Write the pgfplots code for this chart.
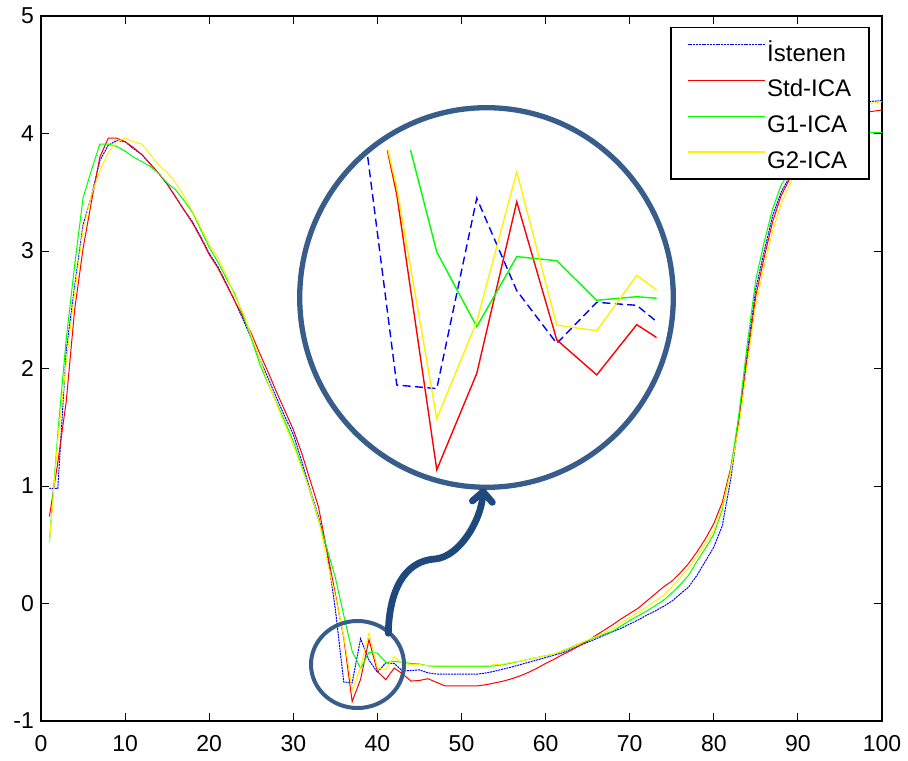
\documentclass[border=0pt]{standalone}
\usepackage{fontspec}
\setmainfont{Liberation Sans}
\usepackage{pgfplots}
\usepackage{pgfplotstable}
\pgfplotsset{compat=1.18}
\usetikzlibrary{arrows.meta}
\definecolor{circcol}{RGB}{56,93,138}
\definecolor{arrcol}{RGB}{31,73,125}

\pgfplotstableread{
x y
1 0.98
2 0.98
3 2.15
4 2.70
5 3.22
6 3.47
7 3.77
8 3.90
9 3.94
10 3.93
11 3.87
12 3.82
13 3.74
14 3.66
15 3.57
16 3.46
17 3.35
18 3.25
19 3.12
20 2.98
21 2.87
22 2.73
23 2.58
24 2.42
25 2.26
26 2.08
27 1.92
28 1.75
29 1.59
30 1.44
31 1.21
32 0.97
33 0.74
34 0.45
35 -0.05
36 -0.668
37 -0.675
38 -0.30
39 -0.482
40 -0.586
41 -0.505
42 -0.511
43 -0.575
44 -0.57
45 -0.565
46 -0.59
47 -0.60
48 -0.60
49 -0.60
50 -0.60
51 -0.60
52 -0.60
53 -0.59
54 -0.575
55 -0.557
56 -0.54
57 -0.52
58 -0.50
59 -0.48
60 -0.46
61 -0.44
62 -0.42
63 -0.39
64 -0.36
65 -0.33
66 -0.30
67 -0.27
68 -0.24
69 -0.21
70 -0.175
71 -0.14
72 -0.10
73 -0.065
74 -0.025
75 0.02
76 0.08
77 0.14
78 0.24
79 0.36
80 0.48
81 0.66
82 1.05
83 1.57
84 2.15
85 2.68
86 3.00
87 3.30
88 3.50
89 3.63
90 3.80
91 3.94
92 4.04
93 4.11
94 4.16
95 4.20
96 4.23
97 4.25
98 4.27
99 4.275
100 4.28
}\tblue

\pgfplotstableread{
x y
1 0.74
2 1.20
3 1.72
4 2.50
5 3.02
6 3.42
7 3.80
8 3.96
9 3.96
10 3.93
11 3.88
12 3.82
13 3.74
14 3.66
15 3.57
16 3.46
17 3.35
18 3.24
19 3.11
20 2.97
21 2.86
22 2.72
23 2.58
24 2.44
25 2.30
26 2.13
27 1.97
28 1.80
29 1.64
30 1.48
31 1.28
32 1.05
33 0.82
34 0.45
35 0.08
36 -0.293
37 -0.835
38 -0.645
39 -0.307
40 -0.579
41 -0.648
42 -0.549
43 -0.60
44 -0.66
45 -0.655
46 -0.64
47 -0.67
48 -0.70
49 -0.70
50 -0.70
51 -0.70
52 -0.70
53 -0.69
54 -0.675
55 -0.66
56 -0.64
57 -0.615
58 -0.585
59 -0.55
60 -0.51
61 -0.475
62 -0.435
63 -0.40
64 -0.36
65 -0.32
66 -0.27
67 -0.225
68 -0.18
69 -0.13
70 -0.085
71 -0.04
72 0.02
73 0.08
74 0.14
75 0.19
76 0.26
77 0.34
78 0.44
79 0.55
80 0.68
81 0.86
82 1.15
83 1.55
84 2.10
85 2.62
86 2.95
87 3.25
88 3.47
89 3.61
90 3.77
91 3.89
92 3.98
93 4.04
94 4.09
95 4.12
96 4.14
97 4.16
98 4.18
99 4.19
100 4.20
}\tred

\pgfplotstableread{
x y
1 0.52
2 1.45
3 2.25
4 2.88
5 3.45
6 3.69
7 3.91
8 3.91
9 3.89
10 3.85
11 3.80
12 3.76
13 3.72
14 3.66
15 3.58
16 3.52
17 3.43
18 3.33
19 3.18
20 3.03
21 2.91
22 2.77
23 2.64
24 2.46
25 2.26
26 2.04
27 1.87
28 1.71
29 1.55
30 1.38
31 1.17
32 0.95
33 0.71
34 0.47
35 0.22
36 -0.10
37 -0.406
38 -0.553
39 -0.415
40 -0.423
41 -0.501
42 -0.494
43 -0.50
44 -0.51
45 -0.515
46 -0.53
47 -0.535
48 -0.535
49 -0.535
50 -0.535
51 -0.535
52 -0.535
53 -0.535
54 -0.53
55 -0.52
56 -0.505
57 -0.49
58 -0.475
59 -0.46
60 -0.445
61 -0.43
62 -0.405
63 -0.375
64 -0.345
65 -0.315
66 -0.285
67 -0.26
68 -0.235
69 -0.19
70 -0.145
71 -0.105
72 -0.065
73 -0.02
74 0.026
75 0.09
76 0.16
77 0.24
78 0.36
79 0.47
80 0.59
81 0.80
82 1.13
83 1.62
84 2.22
85 2.76
86 3.08
87 3.36
88 3.56
89 3.68
90 3.82
91 3.92
92 3.97
93 3.99
94 4.00
95 4.00
96 4.00
97 4.01
98 4.01
99 4.01
100 4.01
}\tgreen

\pgfplotstableread{
x y
1 0.52
2 1.40
3 2.05
4 2.65
5 3.18
6 3.48
7 3.68
8 3.84
9 3.93
10 3.96
11 3.93
12 3.91
13 3.82
14 3.73
15 3.67
16 3.58
17 3.47
18 3.34
19 3.20
20 3.06
21 2.95
22 2.80
23 2.62
24 2.48
25 2.28
26 2.08
27 1.88
28 1.70
29 1.52
30 1.35
31 1.15
32 0.96
33 0.72
34 0.37
35 0.06
36 -0.28
37 -0.734
38 -0.543
39 -0.248
40 -0.55
41 -0.561
42 -0.452
43 -0.51
44 -0.52
45 -0.52
46 -0.53
47 -0.53
48 -0.53
49 -0.53
50 -0.53
51 -0.53
52 -0.53
53 -0.53
54 -0.52
55 -0.515
56 -0.50
57 -0.49
58 -0.475
59 -0.46
60 -0.445
61 -0.43
62 -0.40
63 -0.37
64 -0.34
65 -0.31
66 -0.28
67 -0.25
68 -0.215
69 -0.165
70 -0.12
71 -0.075
72 -0.03
73 0.02
74 0.068
75 0.14
76 0.22
77 0.30
78 0.40
79 0.51
80 0.62
81 0.82
82 1.12
83 1.52
84 2.05
85 2.55
86 2.88
87 3.17
88 3.40
89 3.56
90 3.74
91 3.90
92 4.02
93 4.10
94 4.16
95 4.20
96 4.22
97 4.24
98 4.25
99 4.26
100 4.27
}\tyellow

\begin{document}
\begin{tikzpicture}
\begin{axis}[
  at={(0pt,0pt)}, anchor=south west,
  scale only axis, width=420.5pt, height=352.5pt,
  xmin=0, xmax=100, ymin=-1, ymax=5,
  xtick={0,10,...,100}, ytick={-1,0,1,2,3,4,5},
  xticklabels={0,10,20,30,40,50,60,70,80,90,100},
  yticklabels={-1,0,1,2,3,4,5},
  tick align=inside, major tick length=4.2pt,
  every tick/.style={black, line width=0.5pt},
  axis line style={line width=0.8pt},
  ticklabel style={font=\fontsize{11.5}{13.8}\selectfont},
  xticklabel style={yshift=-3.7pt},
  legend style={at={(0.9857,0.9844)}, anchor=north east, draw=black,
    line width=0.75pt, fill=white, inner xsep=8pt, inner ysep=3.7pt,
    row sep=3.45pt, font=\fontsize{12}{14}\selectfont,
    nodes={inner xsep=1pt, inner ysep=1.5pt, text height=11.45pt, text depth=0pt},
    /tikz/every even column/.append style={column sep=4pt}},
  legend cell align=left,
  legend image code/.code={\draw[#1, line width=0.6pt] (0pt,2.5pt) -- (38.5pt,2.5pt);},
]
\addplot[blue, line width=0.5pt, dash pattern=on 1pt off 0.4pt] table {\tblue};
\addplot[red, line width=0.5pt] table {\tred};
\addplot[green, line width=0.5pt] table {\tgreen};
\addplot[yellow, line width=0.5pt] table {\tyellow};
\legend{İstenen, Std-ICA, G1-ICA, G2-ICA}
\end{axis}

\begin{axis}[
  at={(159.5pt,123.05pt)}, anchor=south west,
  scale only axis, width=148.35pt, height=162.45pt,
  xmin=35.08, xmax=42.5, ymin=-0.845, ymax=-0.205,
  hide axis,
]
\addplot[blue, line width=0.7pt, dash pattern=on 4pt off 2.2pt, restrict x to domain=33:45] table {\tblue};
\addplot[red, line width=0.7pt, restrict x to domain=33:45] table {\tred};
\addplot[green, line width=0.7pt, restrict x to domain=33:45] table {\tgreen};
\addplot[yellow, line width=0.7pt, restrict x to domain=33:45] table {\tyellow};
\end{axis}

\draw[circcol, line width=2.65pt] (222.75pt,211.75pt) ellipse [x radius=93.4pt, y radius=94.9pt];
\draw[circcol, line width=2pt] (158.25pt,28.25pt) ellipse [x radius=23.25pt, y radius=21.75pt];
\draw[arrcol, line width=3.4pt, line cap=round,
  -{Straight Barb[length=5pt, width=10pt, round]}]
  (173.65pt,43.85pt) .. controls (174pt,64pt) and (181pt,80pt) .. (197pt,81pt)
  .. controls (209pt,82pt) and (220pt,100pt) .. (221.15pt,116.35pt);

\pgfresetboundingbox
\path[use as bounding box] (-20.5pt,-19.5pt) rectangle (433.5pt,360.5pt);
\end{tikzpicture}
\end{document}
